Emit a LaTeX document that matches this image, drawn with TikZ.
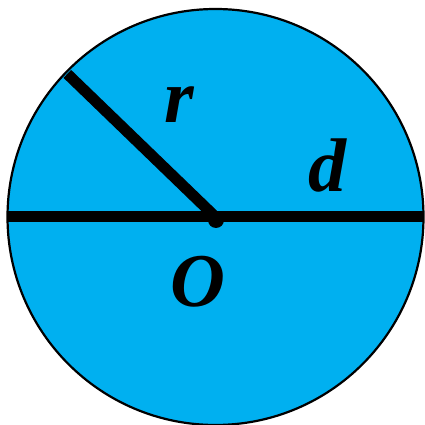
\documentclass[tikz,border=0pt]{standalone}
\usepackage{fontspec}
\setmainfont{Liberation Serif}
\usetikzlibrary{calc}
\definecolor{disk}{RGB}{0,176,240}
\begin{document}
\begin{tikzpicture}[x=1pt,y=1pt,
  lbl/.style={inner sep=0pt,anchor=base,font=\fontsize{76}{76}\selectfont\bfseries\itshape},
  seg/.style={line width=11pt}]
\useasboundingbox (0,0) rectangle (425,425);
\coordinate (C) at (215.5,208);
\draw[fill=disk,line width=2.2pt] (C) circle (208);
\coordinate (L) at ($(C)+(-208,0)$);
\coordinate (R) at ($(C)+(208,0)$);
\coordinate (P) at ($(C)+(136:206)$);
\draw[seg] (L) -- (R);
\draw[seg] (P) -- (C);
\fill (216,205) circle (8);
\node[lbl] (r) at (179,302) {r};
\node[lbl] (d) at (327,233) {d};
\node[lbl] (O) at (198,118) {O};
\end{tikzpicture}
\end{document}
